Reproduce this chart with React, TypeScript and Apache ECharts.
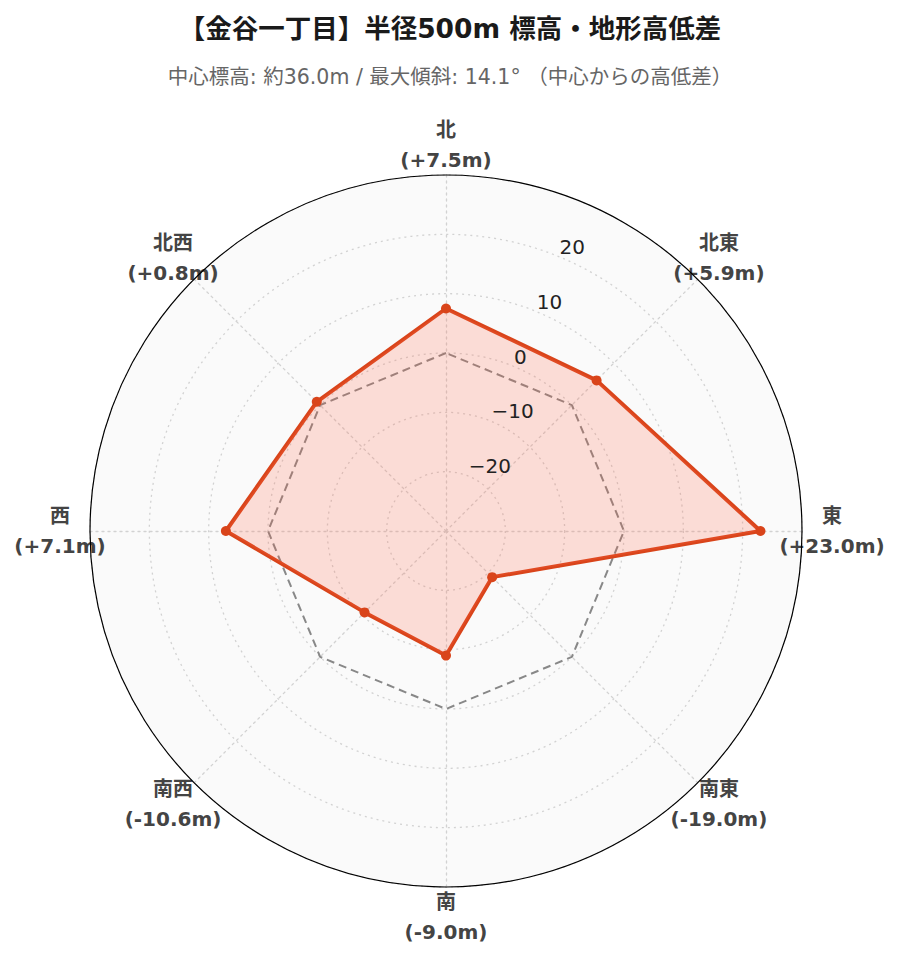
import React, { useEffect, useRef } from 'react';
import * as echarts from 'echarts';

// Directions clockwise from north, and elevation difference from centre (m)
const directions = ['北', '北東', '東', '南東', '南', '南西', '西', '北西'];
const diffs = [7.5, 5.9, 23.0, -19.0, -9.0, -10.6, 7.1, 0.8];
const baseline = [0, 0, 0, 0, 0, 0, 0, 0];
const radialMin = -30;
const radialMax = 30;
const radialStep = 10;
const titleText = '【金谷一丁目】半径500m 標高・地形高低差';
const subtitleText = '中心標高: 約36.0m / 最大傾斜: 14.1° （中心からの高低差）';

const FONT = '"DejaVu Sans", "Noto Sans CJK JP", sans-serif';

export default function App() {
  const ref = useRef<HTMLDivElement>(null);
  useEffect(() => {
    if (!ref.current) return;
    const chart = echarts.init(ref.current, null, { renderer: 'svg' });
    // radar goes counter-clockwise, so reorder: N, NW, W, SW, S, SE, E, NE
    const order = [0, 7, 6, 5, 4, 3, 2, 1];
    const fmt = (v: number) => `(${v >= 0 ? '+' : ''}${v.toFixed(1)}m)`;
    const indicator = order.map((i) => ({
      name: `${directions[i]}\n${fmt(diffs[i])}`,
      min: radialMin,
      max: radialMax,
    }));
    const cx = 446;
    const cy = 531;
    const R = 356;
    chart.setOption({
      animation: false,
      backgroundColor: '#ffffff',
      title: [
        {
          text: titleText,
          left: 'center',
          top: 12,
          padding: 0,
          textStyle: { fontSize: 26.5, fontWeight: 'bold', color: '#1a1a1a', fontFamily: FONT, lineHeight: 32 },
        },
        {
          text: subtitleText,
          left: 'center',
          top: 65,
          padding: 0,
          textStyle: { fontSize: 20.5, fontWeight: 'normal', color: '#666666', fontFamily: FONT, lineHeight: 24 },
        },
      ],
      radar: {
        center: [cx, cy],
        radius: R,
        startAngle: 90,
        shape: 'circle',
        splitNumber: (radialMax - radialMin) / radialStep,
        indicator,
        nameGap: 30,
        axisName: {
          color: '#444444',
          fontWeight: 'bold',
          fontSize: 20,
          fontFamily: FONT,
          align: 'center',
          verticalAlign: 'middle',
          lineHeight: 30,
        },
        axisLine: { lineStyle: { color: '#d2d2d2', type: [2, 4], width: 1.3 } },
        splitLine: { lineStyle: { color: '#d2d2d2', type: [2, 4], width: 1.3 } },
        splitArea: { show: true, areaStyle: { color: ['#fafafa'] } },
        axisTick: { show: false },
        axisLabel: { show: false },
        z: 1,
      },
      polar: { center: [cx, cy], radius: R },
      angleAxis: {
        type: 'value',
        min: 0,
        max: 360,
        startAngle: 67.5,
        clockwise: true,
        axisLine: { show: true, lineStyle: { color: '#000000', width: 1.2 } },
        axisTick: { show: false },
        axisLabel: { show: false },
        splitLine: { show: false },
        z: 5,
      },
      radiusAxis: {
        type: 'value',
        min: radialMin,
        max: radialMax,
        interval: radialStep,
        axisLine: { show: false },
        axisTick: { show: false },
        splitLine: { show: false },
        axisLabel: {
          showMinLabel: false,
          showMaxLabel: false,
          align: 'left',
          verticalAlign: 'bottom',
          margin: 0,
          fontSize: 20,
          color: '#222222',
          fontFamily: FONT,
          formatter: (v: number) => (v < 0 ? '\u2212' + Math.abs(v) : String(v)),
        },
        z: 6,
      },
      series: [
        {
          type: 'radar',
          z: 2,
          symbol: 'none',
          lineStyle: { color: '#888888', width: 2, type: [8, 5] },
          data: [{ value: order.map((i) => baseline[i]), name: '基準' }],
        },
        {
          type: 'radar',
          z: 3,
          symbol: 'circle',
          symbolSize: 10,
          itemStyle: { color: '#d9441a' },
          lineStyle: { color: '#d9441a', width: 4 },
          areaStyle: { color: 'rgba(255, 99, 71, 0.2)', opacity: 1 },
          data: [{ value: order.map((i) => diffs[i]), name: '高低差' }],
        },
      ],
    });
    return () => chart.dispose();
  }, []);
  return (
    <div
      ref={ref}
      style={{ position: 'absolute', left: 0, top: 0, width: 900, height: 962 }}
    />
  );
}
